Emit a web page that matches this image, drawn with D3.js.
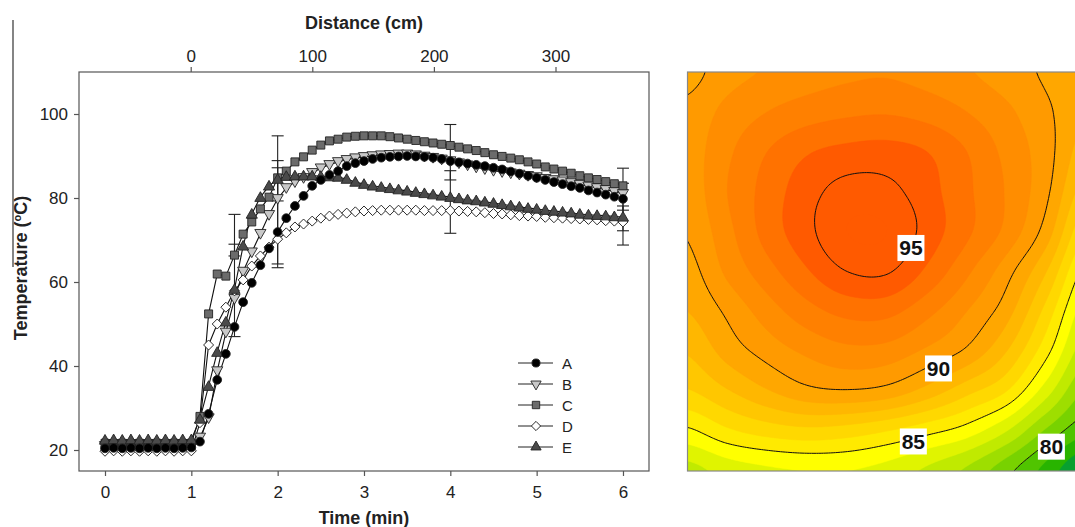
<!DOCTYPE html>
<html>
<head>
<meta charset="utf-8">
<script src="https://cdn.jsdelivr.net/npm/d3@7"></script>
<style>
  body { margin: 0; background: #fff; }
  svg { display: block; font-family: Arial, "Liberation Sans", sans-serif; }
</style>
</head>
<body>
<svg id="chart" width="1075" height="527"></svg>
<script>
// ---- data ----
var times = [0,0.1,0.2,0.3,0.4,0.5,0.6,0.7,0.8,0.9,1.0,1.1,1.2,1.3,1.4,1.5,1.6,1.7,1.8,1.9,2.0,
  2.1,2.2,2.3,2.4,2.5,2.6,2.7,2.8,2.9,3.0,3.1,3.2,3.3,3.4,3.5,3.6,3.7,3.8,3.9,4.0,
  4.1,4.2,4.3,4.4,4.5,4.6,4.7,4.8,4.9,5.0,5.1,5.2,5.3,5.4,5.5,5.6,5.7,5.8,5.9,6.0];

var seriesNames = ["A", "B", "C", "D", "E"];

var tempA = [20.4,20.5,20.4,20.5,20.4,20.5,20.4,20.5,20.4,20.5,20.6,
  22.0,28.6,36.7,42.9,49.3,55.2,59.8,64.0,68.0,71.9,
  75.2,78.1,80.5,82.9,84.3,85.5,86.4,87.6,88.3,88.8,
  89.3,89.6,89.8,89.9,90.0,89.9,89.8,89.6,89.3,88.8,
  88.5,88.2,87.9,87.6,87.2,86.8,86.3,85.8,85.3,84.8,
  84.3,83.8,83.3,82.8,82.4,81.8,81.3,80.8,80.3,79.8];
var tempB = [21.0,21.1,21.0,21.1,21.0,21.1,21.0,21.1,21.0,21.1,21.2,
  23.0,27.6,38.8,48.0,56.0,62.5,67.1,71.5,76.0,79.8,
  82.4,83.8,84.8,86.0,87.1,87.9,88.6,89.1,89.5,89.8,
  90.0,90.2,90.3,90.4,90.4,90.2,89.9,89.6,89.2,88.8,
  88.3,87.8,87.3,86.9,86.5,86.2,85.9,85.6,85.3,85.0,
  84.6,84.3,84.0,83.6,83.2,82.8,82.4,82.0,81.5,81.0];
var tempC = [21.6,21.5,21.6,21.5,21.6,21.5,21.6,21.5,21.6,21.5,21.6,
  28.0,52.4,61.9,61.4,66.4,71.4,74.3,77.4,80.2,84.8,
  86.4,88.6,89.8,91.4,92.6,93.6,94.0,94.5,94.7,94.8,
  94.8,94.8,94.6,94.3,94.0,93.7,93.4,93.1,92.8,92.5,
  92.1,91.7,91.3,90.8,90.3,89.9,89.5,89.1,88.6,88.1,
  87.4,86.9,86.4,85.9,85.3,84.8,84.4,83.9,83.4,82.9];
var tempD = [19.7,19.8,19.7,19.8,19.7,19.8,19.7,19.8,19.7,19.8,19.8,
  26.5,45.0,50.0,54.0,57.9,60.5,63.8,66.2,68.3,70.2,
  71.7,73.1,73.8,74.5,75.2,75.7,76.1,76.4,76.7,76.9,
  77.0,77.1,77.1,77.1,77.1,77.1,77.0,77.0,77.0,77.0,
  76.9,76.8,76.7,76.5,76.3,76.2,76.0,75.8,75.7,75.6,
  75.4,75.3,75.2,75.1,75.0,74.9,74.8,74.6,74.5,74.3];
var tempE = [22.4,22.5,22.4,22.5,22.4,22.5,22.4,22.5,22.4,22.5,22.5,
  27.4,35.2,43.3,50.5,58.3,68.6,76.2,80.2,82.9,84.5,
  85.2,85.3,85.3,85.3,85.2,85.1,85.0,84.5,83.8,83.3,
  82.9,82.6,82.3,82.0,81.7,81.4,81.1,80.8,80.5,80.2,
  79.9,79.6,79.4,79.1,78.8,78.5,78.2,77.9,77.6,77.4,
  77.1,76.9,76.7,76.5,76.2,76.0,75.9,75.8,75.6,75.5];

// error bars: [time, low, high]
var errorBars = [[1.5,47.0,76.1],[1.5,66.2,69.0],[2,63.4,94.8],[2,64.3,88.9],[2,79.3,87.2],
  [4,71.6,97.5],[4,84.3,86.5],[6,68.8,87.1],[6,72.2,83.5],[6,77.1,78.1]];

var timeTicks = [0,1,2,3,4,5,6];
var tempTicks = [20,40,60,80,100];
var distTicks = [0,100,200,300];

// contour map: temperature on an 11 x 11 grid (rows top -> bottom)
var tempGrid = [
  [89.6,90.6,91.1,91.5,91.8,91.9,91.6,91.1,90.5,89.8,88.8],
  [90.3,91.3,92.0,92.5,92.8,92.9,92.6,92.0,91.2,90.2,89.0],
  [90.5,91.8,93.0,93.9,94.3,94.4,94.0,93.0,91.7,90.4,88.4],
  [90.4,92.0,93.4,94.6,95.4,95.3,94.4,93.2,91.9,90.2,87.4],
  [90.1,91.7,93.4,94.7,96.0,96.0,94.6,93.2,91.7,89.5,86.0],
  [89.6,91.2,92.6,93.9,95.0,95.1,93.8,92.2,90.4,88.0,84.6],
  [89.0,90.2,91.5,92.6,93.3,93.3,92.3,91.0,89.4,86.6,83.4],
  [88.1,89.4,90.4,91.2,91.7,91.6,90.8,89.8,88.0,85.3,82.3],
  [86.9,87.9,88.9,89.7,89.9,89.6,88.6,87.3,86.0,83.4,80.8],
  [84.8,85.8,86.4,86.7,86.5,86.0,85.3,84.5,83.0,80.8,79.2],
  [82.6,83.4,83.8,84.0,84.0,83.6,82.8,81.8,80.3,78.6,76.8]];
var contourLevels = [76,77,78,79,80,81,82,83,84,85,86,87,88,89,90,91,92,93,94,95,96];
var labelledLevels = [95, 90, 85, 80];

// ---- layout ----
var svg = d3.select("#chart");
var left = {x0: 79, x1: 649, y0: 72, y1: 471};
var map = {x0: 687.5, y0: 72, size: 399};

var x = d3.scaleLinear().domain([(79 - 105) / 86.33, (649 - 105) / 86.33]).range([left.x0, left.x1]);
var y = d3.scaleLinear().domain([15, 110]).range([left.y1, left.y0]);
var xDist = d3.scaleLinear().domain([0, 100]).range([190.7, 312.3]);

// frame
svg.append("rect")
  .attr("x", left.x0).attr("y", left.y0)
  .attr("width", left.x1 - left.x0).attr("height", left.y1 - left.y0)
  .attr("fill", "none").attr("stroke", "#555").attr("stroke-width", 1.2);

// axes
var gx = svg.append("g").attr("transform", "translate(0," + left.y1 + ")")
  .call(d3.axisBottom(x).tickValues(timeTicks).tickFormat(d3.format("d")).tickSize(5).tickPadding(10));
var gy = svg.append("g").attr("transform", "translate(" + left.x0 + ",0)")
  .call(d3.axisLeft(y).tickValues(tempTicks).tickSize(5).tickPadding(6));
var gt = svg.append("g").attr("transform", "translate(0," + left.y0 + ")")
  .call(d3.axisTop(xDist).tickValues(distTicks).tickSize(5).tickPadding(5));
[gx, gy, gt].forEach(function (g) {
  g.select(".domain").remove();
  g.selectAll(".tick line").attr("stroke", "#555").attr("stroke-width", 1.2);
  g.selectAll(".tick text").attr("fill", "#222").style("font-size", "17px")
    .style("font-family", "Arial, 'Liberation Sans', sans-serif");
});

// titles
svg.append("text").attr("x", 364).attr("y", 29).attr("text-anchor", "middle")
  .style("font-size", "18px").style("font-weight", "bold").attr("fill", "#222")
  .text("Distance (cm)");
svg.append("text").attr("x", 364).attr("y", 524).attr("text-anchor", "middle")
  .style("font-size", "18px").style("font-weight", "bold").attr("fill", "#222")
  .text("Time (min)");
var yt = svg.append("text").attr("transform", "translate(27,268) rotate(-90)")
  .attr("text-anchor", "middle")
  .style("font-size", "18px").style("font-weight", "bold").attr("fill", "#222");
yt.append("tspan").text("Temperature (");
yt.append("tspan").attr("dy", -6).style("font-size", "11px").text("o");
yt.append("tspan").attr("dy", 6).text("C)");

// stray rule at the far left of the figure
svg.append("line").attr("x1", 13).attr("x2", 13).attr("y1", 20).attr("y2", 267)
  .attr("stroke", "#333").attr("stroke-width", 1.2);

// ---- series ----
var allSeries = [tempA, tempB, tempC, tempD, tempE];
var styles = [
  {shape: d3.symbolCircle, size: 60, fill: "#000", rot: 0},
  {shape: d3.symbolTriangle, size: 54, fill: "#c8c8c8", rot: 180},
  {shape: d3.symbolSquare, size: 64, fill: "#6b6b6b", rot: 0},
  {shape: d3.symbolSquare, size: 50, fill: "#fff", rot: 45},
  {shape: d3.symbolTriangle, size: 54, fill: "#4a4a4a", rot: 0}
];
var line = d3.line().x(function (d, i) { return x(times[i]); }).y(function (d) { return y(d); });

var plot = svg.append("g");
allSeries.forEach(function (s) {
  plot.append("path").attr("d", line(s)).attr("fill", "none")
    .attr("stroke", "#111").attr("stroke-width", 1.1);
});

// error bars
var eb = plot.append("g").attr("stroke", "#222").attr("stroke-width", 1.1);
errorBars.forEach(function (e) {
  var cx = x(e[0]);
  eb.append("line").attr("x1", cx).attr("x2", cx).attr("y1", y(e[1])).attr("y2", y(e[2]));
  eb.append("line").attr("x1", cx - 6).attr("x2", cx + 6).attr("y1", y(e[1])).attr("y2", y(e[1]));
  eb.append("line").attr("x1", cx - 6).attr("x2", cx + 6).attr("y1", y(e[2])).attr("y2", y(e[2]));
});

var drawOrder = [1, 2, 3, 4, 0];
drawOrder.forEach(function (k) {
  var st = styles[k];
  var sym = d3.symbol().type(st.shape).size(st.size);
  plot.append("g").selectAll("path").data(allSeries[k]).join("path")
    .attr("d", sym)
    .attr("transform", function (d, i) {
      var dy = st.shape === d3.symbolTriangle ? (st.rot ? -1 : 1) : 0;
      return "translate(" + x(times[i]) + "," + (y(d) + dy) + ") rotate(" + st.rot + ")";
    })
    .attr("fill", st.fill).attr("stroke", "#222").attr("stroke-width", 0.9);
});

// legend
var legend = svg.append("g").attr("transform", "translate(518,363)");
seriesNames.forEach(function (name, k) {
  var st = styles[k];
  var row = legend.append("g").attr("transform", "translate(0," + (k * 21) + ")");
  row.append("line").attr("x1", 0).attr("x2", 35).attr("stroke", "#222").attr("stroke-width", 1);
  row.append("path").attr("d", d3.symbol().type(st.shape).size(st.size * 0.85)())
    .attr("transform", "translate(18,0) rotate(" + st.rot + ")")
    .attr("fill", st.fill).attr("stroke", "#222").attr("stroke-width", 0.9);
  row.append("text").attr("x", 44).attr("y", 5.5).style("font-size", "15px")
    .attr("fill", "#222").text(name);
});

// ---- contour map ----
var bandColors = ["#006e5a","#008a48","#08a030","#28b400","#50c400","#78d200","#9ede00",
  "#c0ea00","#e0f400","#ffff00","#ffea00","#ffd800","#ffc700","#ffb700","#ffa700",
  "#ff9a00","#ff8d00","#ff8000","#ff7200","#ff5a00","#ff5a00"];

function cr(p0, p1, p2, p3, t) {
  return p1 + 0.5 * t * (p2 - p0 + t * (2 * p0 - 5 * p1 + 4 * p2 - p3 + t * (3 * (p1 - p2) + p3 - p0)));
}
function sampleGrid(g, u, v) {
  var rows = g.length, cols = g[0].length;
  var fx = u * (cols - 1), fy = v * (rows - 1);
  var ix = Math.max(0, Math.min(cols - 2, Math.floor(fx)));
  var iy = Math.max(0, Math.min(rows - 2, Math.floor(fy)));
  var tx = fx - ix, ty = fy - iy;
  function at(r, c) {
    r = Math.max(0, Math.min(rows - 1, r)); c = Math.max(0, Math.min(cols - 1, c));
    return g[r][c];
  }
  var col = [];
  for (var r = iy - 1; r <= iy + 2; r++) {
    col.push(cr(at(r, ix - 1), at(r, ix), at(r, ix + 1), at(r, ix + 2), tx));
  }
  return cr(col[0], col[1], col[2], col[3], ty);
}

var N = 180, margin = 0.04, span = 1 + 2 * margin;
var field = new Array(N * N);
for (var j = 0; j < N; j++) {
  for (var i = 0; i < N; i++) {
    var u = -margin + (i + 0.5) / N * span, v = -margin + (j + 0.5) / N * span;
    field[j * N + i] = sampleGrid(tempGrid, u, v);
  }
}
var k = map.size * span / N;
var proj = d3.geoIdentity().scale(k)
  .translate([map.x0 - margin * map.size, map.y0 - margin * map.size]);
var geo = d3.geoPath(proj);

svg.append("clipPath").attr("id", "mapclip").append("rect")
  .attr("x", map.x0).attr("y", map.y0).attr("width", map.size).attr("height", map.size);
var mg = svg.append("g").attr("clip-path", "url(#mapclip)");
mg.append("rect").attr("x", map.x0).attr("y", map.y0).attr("width", map.size).attr("height", map.size)
  .attr("fill", bandColors[0]);
var bands = d3.contours().size([N, N]).thresholds(contourLevels)(field);
mg.selectAll("path.band").data(bands).join("path").attr("class", "band")
  .attr("d", geo).attr("fill", function (d, i) { return bandColors[Math.min(i + 1, bandColors.length - 1)]; })
  .attr("stroke", function (d, i) { return bandColors[Math.min(i + 1, bandColors.length - 1)]; })
  .attr("stroke-width", 0.5);
var lines = d3.contours().size([N, N]).thresholds(labelledLevels)(field);
mg.selectAll("path.iso").data(lines).join("path").attr("class", "iso")
  .attr("d", geo).attr("fill", "none").attr("stroke", "#111").attr("stroke-width", 1);

svg.append("rect").attr("x", map.x0).attr("y", map.y0).attr("width", map.size).attr("height", map.size)
  .attr("fill", "none").attr("stroke", "#888").attr("stroke-width", 1.2);

// contour labels, placed in map fraction coordinates
var mu = d3.scaleLinear().domain([0, 1]).range([map.x0, map.x0 + map.size]);
var mv = d3.scaleLinear().domain([0, 1]).range([map.y0, map.y0 + map.size]);
var labelSpots = [[0.560, 0.441], [0.629, 0.743], [0.566, 0.926], [0.912, 0.939]];
labelledLevels.forEach(function (lv, n) {
  var cx = mu(labelSpots[n][0]), cy = mv(labelSpots[n][1]);
  svg.append("rect").attr("x", cx - 13.5).attr("y", cy - 13).attr("width", 27).attr("height", 26)
    .attr("fill", "#fff");
  svg.append("text").attr("x", cx).attr("y", cy + 7.5).attr("text-anchor", "middle")
    .style("font-size", "21px").style("font-weight", "bold").attr("fill", "#111").text(lv);
});
</script>
</body>
</html>
